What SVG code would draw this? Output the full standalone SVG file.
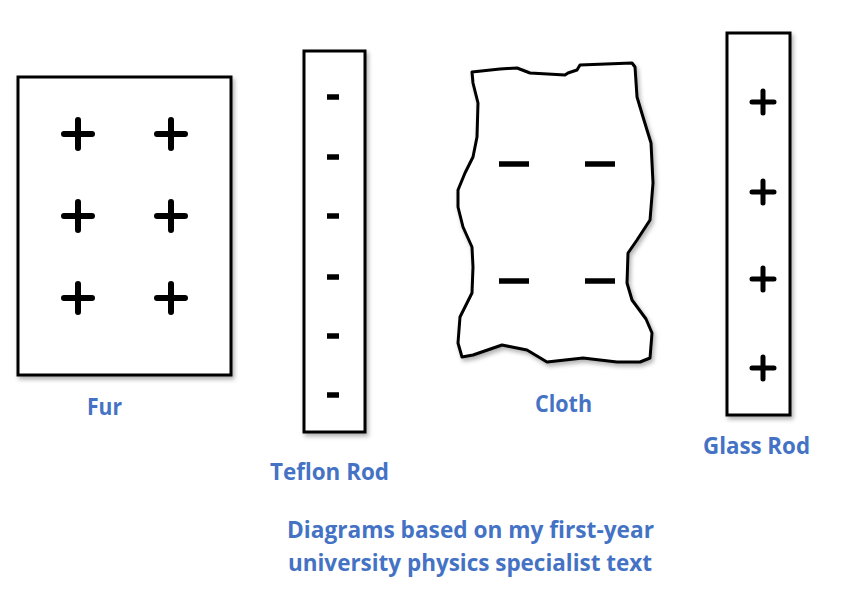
<svg xmlns="http://www.w3.org/2000/svg" width="860" height="607" viewBox="0 0 860 607">
  <defs>
    <filter id="sh" x="-10%" y="-10%" width="130%" height="130%">
      <feDropShadow dx="2" dy="3" stdDeviation="2" flood-color="#000" flood-opacity="0.3"/>
    </filter>
  </defs>
  <style>
    .box { fill: #fff; stroke: #000; stroke-width: 3; }
    .mark { stroke: #000; stroke-linecap: round; fill: none; }
    .big { stroke-width: 6; }
    .small { stroke-width: 5; }
    .dash { stroke-width: 5.5; stroke-linecap: butt; }
    .lbl { font-family: "Open Sans", "Liberation Sans", sans-serif; font-weight: 700; font-size: 23px; fill: #4472C4; }
  </style>
  <rect width="860" height="607" fill="#fff"/>

  <g id="fur">
    <rect class="box" x="18" y="77" width="213" height="298" filter="url(#sh)"/>
    <path class="mark big" d="M64 134h28M78 120v28 M157 134h28M171 120v28 M64 216h28M78 202v28 M157 216h28M171 202v28 M64 298h28M78 284v28 M157 298h28M171 284v28"/>
    <text class="lbl" x="87" y="415" textLength="35" lengthAdjust="spacingAndGlyphs">Fur</text>
  </g>

  <g id="teflon">
    <rect class="box" x="304" y="51" width="61" height="381" filter="url(#sh)"/>
    <path class="mark dash" d="M327 97h12 M327 157h12 M327 216h12 M327 277h12 M327 336h12 M327 395h12"/>
    <text class="lbl" x="270" y="480" textLength="119" lengthAdjust="spacingAndGlyphs">Teflon Rod</text>
  </g>

  <g id="cloth">
    <path class="box" filter="url(#sh)" stroke-width="2.6" stroke-linejoin="round" d="M472 72 L500 69 L517 68 L530 73 L565 75 L568 73 L577 70 L580 65 L632 63 L635 67 L637 97 L643 117 L651 143 L653 183 L650 220 L637 240 L628 253 L627 283 L632 300 L646 319 L652 333 L650 358 L640 362 L617 362 L583 358 L547 362 L527 350 L502 345 L473 355 L462 357 L458 343 L460 317 L472 293 L473 267 L472 247 L463 227 L458 207 L458 190 L465 173 L473 157 L477 137 L478 103 L473 83 Z"/>
    <path class="mark dash" d="M499 164h30 M585 164h30 M499 281h30 M585 281h30"/>
    <text class="lbl" x="535" y="412" textLength="57" lengthAdjust="spacingAndGlyphs">Cloth</text>
  </g>

  <g id="glass">
    <rect class="box" x="727" y="33" width="63" height="382" filter="url(#sh)"/>
    <path class="mark small" d="M752 102h22M763 91v22 M752 192h22M763 181v22 M752 279h22M763 268v22 M752 368h22M763 357v22"/>
    <text class="lbl" x="703" y="454" textLength="107" lengthAdjust="spacingAndGlyphs">Glass Rod</text>
  </g>

  <g id="caption">
    <text class="lbl" x="287" y="538" textLength="367" lengthAdjust="spacingAndGlyphs">Diagrams based on my first-year</text>
    <text class="lbl" x="288" y="571" textLength="364" lengthAdjust="spacingAndGlyphs">university physics specialist text</text>
  </g>

  <g id="connectors"/>
</svg>
